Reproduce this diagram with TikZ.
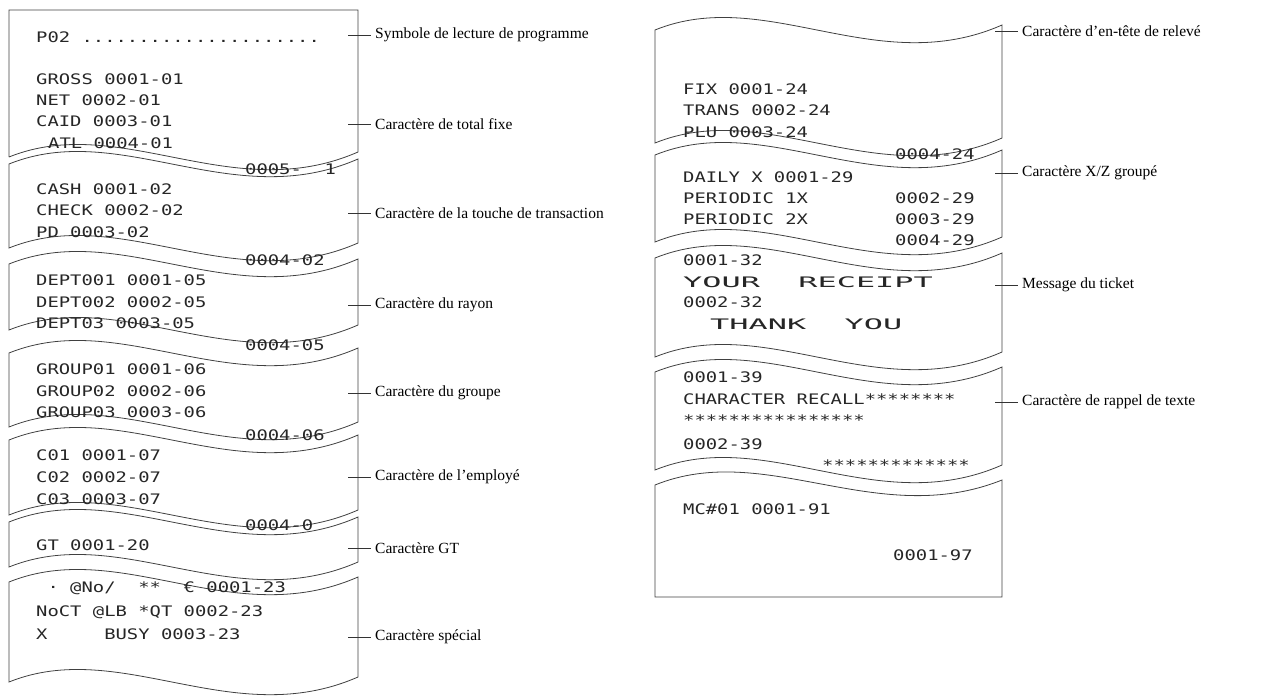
\documentclass[tikz,border=0pt]{standalone}
\usepackage{fontspec}
\setmainfont{Liberation Serif}
\newfontfamily\rmono{DejaVu Sans Mono}
\newcommand\rs[1]{\scalebox{1.3}[1]{#1}}
\newcommand\rb[1]{\scalebox{2.2}[1]{#1}}
% segment: x1,x2,topL,botL
\newcommand\seg[4]{%
  \draw[paper] (#1,#3) .. controls ({#1+0.32*(#2-#1)},#3-45) and ({#1+0.64*(#2-#1)},#3+50) .. (#2,#3-5)
    -- (#2,#4-5) .. controls ({#1+0.64*(#2-#1)},#4+50) and ({#1+0.32*(#2-#1)},#4-45) .. (#1,#4) -- cycle;}
\begin{document}
\begin{tikzpicture}[x=1pt,y=-1pt,
  paper/.style={draw=black!75,line width=0.8pt},
  rt/.style={anchor=mid west,inner sep=0pt,font=\fontsize{14.5}{15}\selectfont\rmono,text=black!85},
  lab/.style={anchor=west,inner sep=0pt,font=\fontsize{15.5}{16}\selectfont},
  tick/.style={draw=black!80,line width=0.6pt}]
\useasboundingbox (0,0) rectangle (1262,696);
% left receipt
\draw[paper] (9,157) -- (9,10) -- (358,10) -- (358,152) .. controls (232,207) and (121,112) .. (9,157);
\seg{9}{358}{164}{248}
\seg{9}{358}{264}{330}
\seg{9}{358}{353}{427}
\seg{9}{358}{440}{515}
\seg{9}{358}{522}{567}
\seg{9}{358}{582}{682}
% right receipt
\seg{655}{1002}{30}{143}
\seg{655}{1002}{155}{242}
\seg{655}{1002}{258}{357}
\seg{655}{1002}{372}{470}
\draw[paper] (655,485) .. controls (766,440) and (877,530) .. (1002,480) -- (1002,597) -- (655,597) -- cycle;
% left texts
\node[rt] (t1) at (36,40) {\rs{P02 .....................}};
\node[rt] (t2) at (36,82) {\rs{GROSS 0001-01}};
\node[rt] (t3) at (36,103) {\rs{NET 0002-01}};
\node[rt] (t4) at (36,124) {\rs{CAID 0003-01}};
\node[rt] (t5) at (48,146) {\rs{ATL 0004-01}};
\node[rt] (t6) at (245,172) {\rs{0005-\ \ 1}};
\node[rt] (t7) at (36,192) {\rs{CASH 0001-02}};
\node[rt] (t8) at (36,213) {\rs{CHECK 0002-02}};
\node[rt] (t9) at (36,235) {\rs{PD 0003-02}};
\node[rt] (t10) at (245,263) {\rs{0004-02}};
\node[rt] (t11) at (36,283) {\rs{DEPT001 0001-05}};
\node[rt] (t12) at (36,305) {\rs{DEPT002 0002-05}};
\node[rt] (t13) at (36,326) {\rs{DEPT03 0003-05}};
\node[rt] (t14) at (245,348) {\rs{0004-05}};
\node[rt] (t15) at (36,372) {\rs{GROUP01 0001-06}};
\node[rt] (t16) at (36,394) {\rs{GROUP02 0002-06}};
\node[rt] (t17) at (36,415) {\rs{GROUP03 0003-06}};
\node[rt] (t18) at (245,438) {\rs{0004-06}};
\node[rt] (t19) at (36,458) {\rs{C01 0001-07}};
\node[rt] (t20) at (36,480) {\rs{C02 0002-07}};
\node[rt] (t21) at (36,502) {\rs{C03 0003-07}};
\node[rt] (t22) at (245,528) {\rs{0004-0}};
\node[rt] (t23) at (36,548) {\rs{GT 0001-20}};
\node[rt] (t24) at (36,590) {\rs{\ · @No/\ \ **\ \ € 0001-23}};
\node[rt] (t25) at (36,614) {\rs{NoCT @LB *QT 0002-23}};
\node[rt] (t26) at (36,637) {\rs{X\ \ \ \ \ BUSY 0003-23}};
% right texts
\node[rt] (r1) at (683,92) {\rs{FIX 0001-24}};
\node[rt] (r2) at (683,113) {\rs{TRANS 0002-24}};
\node[rt] (r3) at (683,135) {\rs{PLU 0003-24}};
\node[rt] (r4) at (895,157) {\rs{0004-24}};
\node[rt] (r5) at (683,180) {\rs{DAILY X 0001-29}};
\node[rt] (r6) at (683,201) {\rs{PERIODIC 1X}};
\node[rt] (r6b) at (895,201) {\rs{0002-29}};
\node[rt] (r7) at (683,222) {\rs{PERIODIC 2X}};
\node[rt] (r7b) at (895,222) {\rs{0003-29}};
\node[rt] (r8) at (895,243) {\rs{0004-29}};
\node[rt] (r9) at (683,263) {\rs{0001-32}};
\node[rt] (r10) at (683,285) {\rb{YOUR\ \ RECEIPT}};
\node[rt] (r11) at (683,305) {\rs{0002-32}};
\node[rt] (r12) at (710,327) {\rb{THANK\ \ YOU}};
\node[rt] (r13) at (683,380) {\rs{0001-39}};
\node[rt] (r14) at (683,402) {\rs{CHARACTER RECALL********}};
\node[rt] (r15) at (683,423) {\rs{****************}};
\node[rt] (r16) at (683,447) {\rs{0002-39}};
\node[rt] (r17) at (822,468) {\rs{*************}};
\node[rt] (r18) at (683,512) {\rs{MC\#01 0001-91}};
\node[rt] (r19) at (893,558) {\rs{0001-97}};
% labels
\foreach \n/\y/\t in {a/35/{Symbole de lecture de programme},b/124/{Caractère de total fixe},c/213/{Caractère de la touche de transaction},d/305/{Caractère du rayon},e/393/{Caractère du groupe},f/477/{Caractère de l’employé},g/548/{Caractère GT},h/637/{Caractère spécial}}{
  \node[lab] (L\n) at (375,\y) {\t};
  \draw[tick] ([xshift=-27pt]L\n.west) -- ([xshift=-4pt]L\n.west);}
\foreach \n/\y/\t in {a/31/{Caractère d’en-tête de relevé},b/173/{Caractère X/Z groupé},c/285/{Message du ticket},d/402/{Caractère de rappel de texte}}{
  \node[lab] (R\n) at (1022,\y) {\t};
  \draw[tick] ([xshift=-27pt]R\n.west) -- ([xshift=-4pt]R\n.west);}
\end{tikzpicture}
\end{document}
